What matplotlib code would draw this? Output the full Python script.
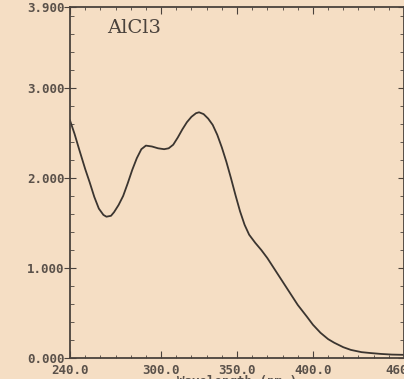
import numpy as np
import matplotlib.pyplot as plt
from matplotlib.ticker import MultipleLocator

# spectrum (wavelength nm, absorbance)
wavelength = [240, 243, 246, 250, 253, 256, 259, 262, 264, 267, 269, 272, 275, 278,
              281, 284, 287, 290, 294, 298, 302, 305, 308, 311, 314, 317, 320, 323,
              325, 328, 331, 334, 337, 340, 343, 346, 349, 352, 355, 358, 362, 366,
              370, 375, 380, 385, 390, 396, 400, 405, 410, 414, 420, 425, 432, 438,
              445, 452, 460]
absorbance = [2.64, 2.49, 2.32, 2.10, 1.95, 1.79, 1.66, 1.59, 1.57, 1.58, 1.62, 1.70, 1.80, 1.94,
              2.09, 2.22, 2.32, 2.36, 2.35, 2.33, 2.32, 2.33, 2.37, 2.45, 2.54, 2.62, 2.68, 2.72,
              2.73, 2.71, 2.66, 2.59, 2.48, 2.34, 2.18, 2.00, 1.81, 1.63, 1.48, 1.37, 1.28, 1.20,
              1.11, 0.98, 0.85, 0.72, 0.59, 0.46, 0.37, 0.28, 0.21, 0.17, 0.12, 0.09, 0.065, 0.055,
              0.045, 0.038, 0.035]

x_tick_pos = [240, 300, 350, 400, 460]
x_tick_labels = ["240.0", "300.0", "350.0", "400.0", "460.0"]
y_tick_pos = [0, 1, 2, 3, 3.9]
y_tick_labels = ["0.000", "1.000", "2.000", "3.000", "3.900"]

bg = "#f5dec4"
ink = "#4a423c"

fig = plt.figure(figsize=(4.04, 3.79), dpi=100, facecolor=bg)
ax = fig.add_axes([70 / 404, 21 / 379, 334 / 404, 351 / 379])
ax.set_facecolor(bg)

ax.plot(wavelength, absorbance, color="#3b3530", linewidth=1.3)

ax.set_xlim(240, 460)
ax.set_ylim(0, 3.9)

ax.set_xticks(x_tick_pos)
ax.set_xticklabels(x_tick_labels)
ax.set_yticks(y_tick_pos)
ax.set_yticklabels(y_tick_labels)
ax.xaxis.set_minor_locator(MultipleLocator(10))
ax.yaxis.set_minor_locator(MultipleLocator(0.2))

ax.tick_params(axis="x", which="major", direction="in", length=5, top=True,
               color=ink, pad=4)
ax.tick_params(axis="x", which="minor", direction="in", length=2.5, top=True,
               color=ink)
ax.tick_params(axis="y", which="major", direction="inout", length=8, right=True,
               color=ink, pad=0)
ax.tick_params(axis="y", which="minor", direction="in", length=3, right=True,
               color=ink)

for lab in ax.get_xticklabels() + ax.get_yticklabels():
    lab.set_family("DejaVu Sans Mono")
    lab.set_fontweight("bold")
    lab.set_fontsize(9)
    lab.set_color("#5a514a")

for sp in ax.spines.values():
    sp.set_color(ink)
    sp.set_linewidth(1.3)

ax.set_xlabel("Wavelength (nm.)", family="DejaVu Sans Mono", fontweight="bold",
              fontsize=9, color="#5a514a", labelpad=-1)

ax.text(0.11, 0.965, "AlCl3", transform=ax.transAxes, family="DejaVu Serif",
        fontsize=14, color=ink, va="top", ha="left")

plt.savefig("out.png", dpi=100, facecolor=bg)
